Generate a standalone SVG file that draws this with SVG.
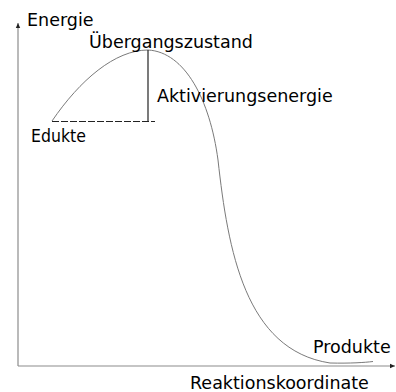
<svg xmlns="http://www.w3.org/2000/svg" width="396" height="392" viewBox="0 0 396 392">
<defs>
<style>
text{font-family:"DejaVu Sans","Liberation Sans",sans-serif;font-size:17.5px;fill:#000}
.cond{font-family:"DejaVu Sans Condensed","DejaVu Sans",sans-serif;font-stretch:condensed}
.axis{stroke:#8c8c8c;stroke-width:1.2;fill:none}
.curve{stroke:#7a7a7a;stroke-width:1;fill:none}
.dark{stroke:#222;stroke-width:1.2;fill:none}
</style>
<marker id="ah" markerWidth="6" markerHeight="6" refX="5" refY="3" orient="auto" markerUnits="userSpaceOnUse">
<path d="M0,0.8 L5,3 L0,5.2 Z" fill="#222"/>
</marker>
</defs>
<g id="connectors">
<path class="axis" d="M18,366 L18,23" marker-end="url(#ah)"/>
<path class="axis" d="M18,366 L395,366" marker-end="url(#ah)"/>
<path class="curve" d="M52,121 C80,80 115,50 148,50 C185,52 210,100 218,160 C228,250 245,350 330,363 C350,363.5 365,362.5 373,361.5"/>
<path class="dark" d="M148,50 L148,121"/>
<path class="dark" d="M52,121.5 L155,121.5" stroke-dasharray="7,2"/>
</g>
<g id="energie"><text x="27" y="26">Energie</text></g>
<g id="uebergang"><text x="89" y="48">Übergangszustand</text></g>
<g id="aktivierung"><text x="157" y="101.5">Aktivierungsenergie</text></g>
<g id="edukte"><text class="cond" x="31" y="141.5">Edukte</text></g>
<g id="produkte"><text x="313" y="353">Produkte</text></g>
<g id="reaktion"><text x="190" y="389">Reaktionskoordinate</text></g>
</svg>
